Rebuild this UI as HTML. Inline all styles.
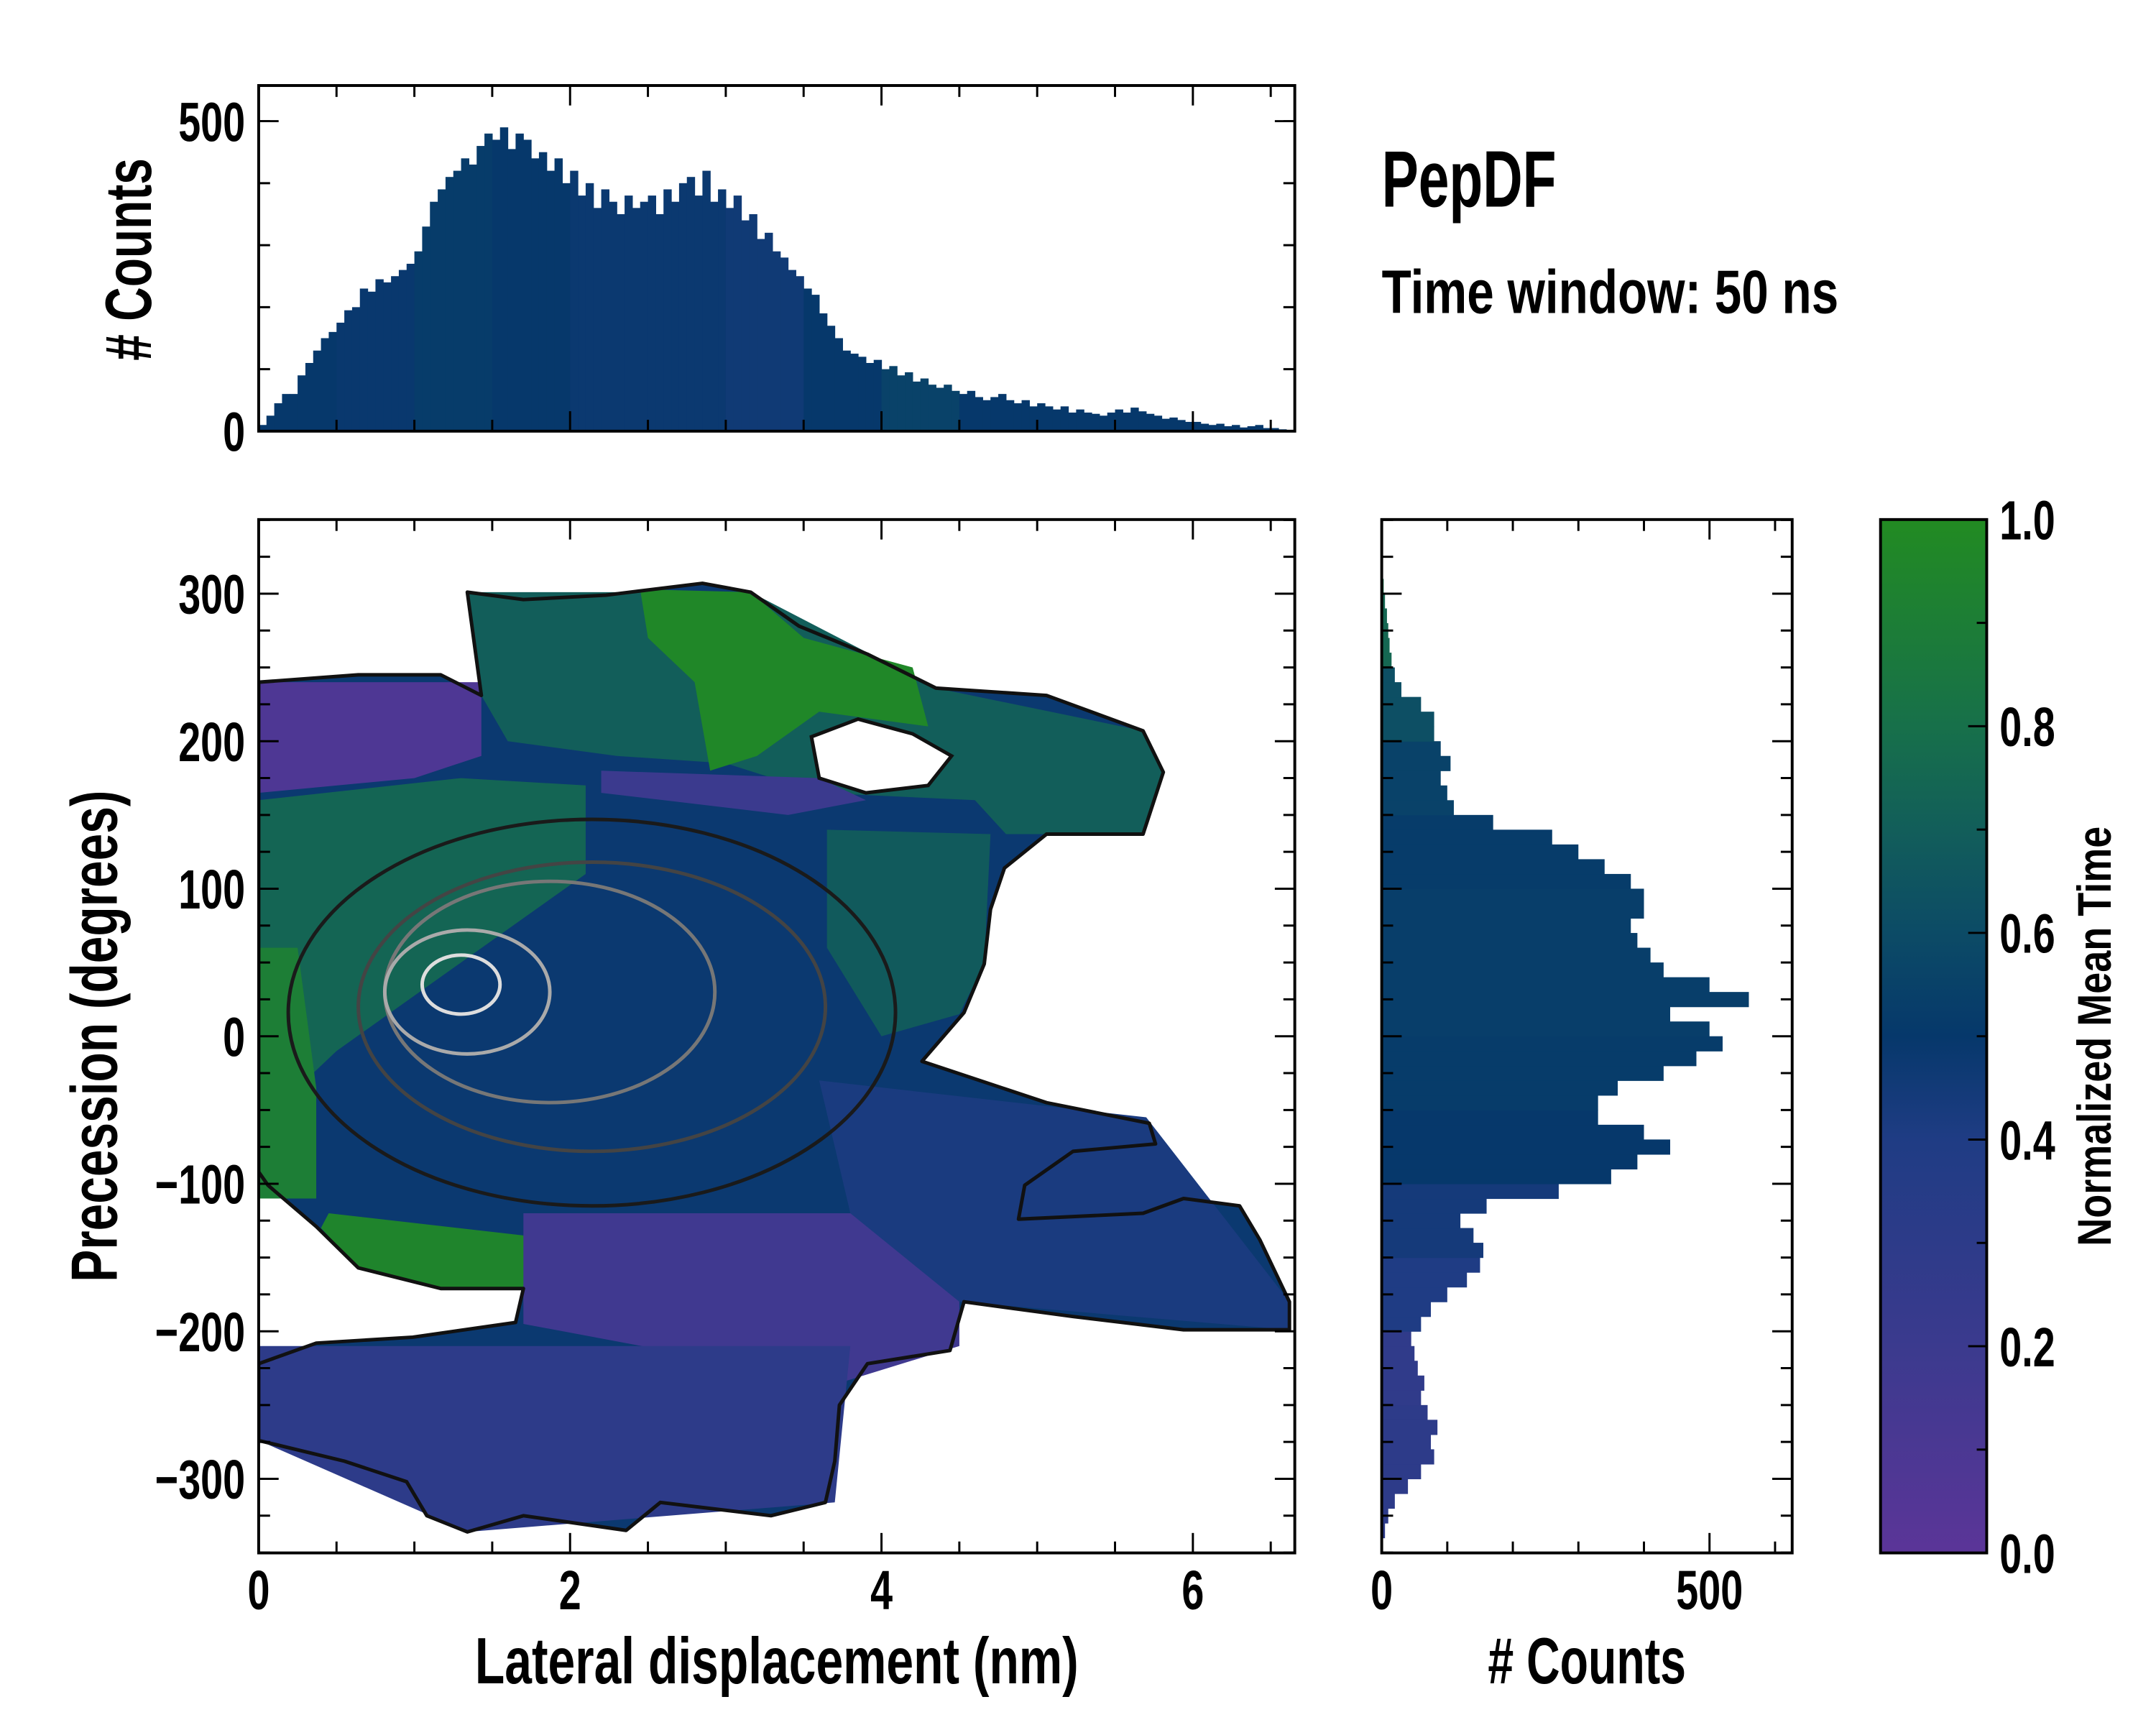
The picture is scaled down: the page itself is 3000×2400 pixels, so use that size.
<!DOCTYPE html>
<html><head><meta charset="utf-8"><style>
html,body{margin:0;padding:0;background:#fff;}
svg{display:block;}
text{font-family:"Liberation Sans",sans-serif;font-weight:bold;fill:#000;}
</style></head><body>
<svg id="fig" width="3000" height="2400" viewBox="0 0 3000 2400" xmlns="http://www.w3.org/2000/svg">
<defs>
<linearGradient id="cmapGrad" x1="0" y1="1" x2="0" y2="0">
<stop offset="0" stop-color="#5b3598"/><stop offset="0.2" stop-color="#3b3a8e"/><stop offset="0.4" stop-color="#1f3c84"/><stop offset="0.5" stop-color="#06386b"/><stop offset="0.6" stop-color="#0c4b66"/><stop offset="0.7" stop-color="#125e5a"/><stop offset="0.8" stop-color="#17704a"/><stop offset="1" stop-color="#228b22"/>
</linearGradient>
<clipPath id="mainClip"><rect x="363" y="729" width="1454" height="1450"/></clipPath>
</defs>
<g id="layer" transform="scale(0.99155)"></g>
</svg>
<script>
// ---------- data ----------
const topHistStart = 0, topHistStep = 0.05;
const topHistCounts = [10,25,45,60,60,90,110,130,150,160,
175,195,200,230,225,245,240,250,260,270,
290,330,370,390,410,420,440,430,460,480,
470,490,455,480,470,440,450,420,440,400,
420,380,400,360,390,370,350,380,360,370,
380,350,390,370,400,410,380,420,370,390,
360,380,340,350,310,320,290,280,260,250,
230,220,190,170,150,130,125,120,110,115,
100,105,90,95,80,85,75,70,75,65,
60,65,55,50,55,60,50,45,50,40,
45,40,35,40,30,35,30,28,25,30,
35,30,38,32,28,25,20,22,18,15,
15,12,10,12,8,10,6,8,10,5,
5,3,2];
const topHistTime = [0.5,0.49,0.52,0.5,0.48,0.48,0.46,0.5,0.55,0.5,0.5,0.5,0.5,0.5];
const rightHistStart = -350, rightHistStep = 10;
const rightHistCounts = [0,5,10,20,40,60,80,75,85,70,60,65,55,50,45,60,75,100,130,150,155,140,120,160,270,350,390,440,400,330,330,360,430,480,520,500,440,560,500,430,410,390,380,400,400,380,340,300,260,170,110,100,90,105,90,80,80,60,30,20,15,12,10,8,5,3,1,0,0,0];
const rightHistTime = [0.3,0.3,0.28,0.4,0.44,0.5,0.52,0.53,0.53,0.52,0.55,0.62,0.75,0.8];
const xTicks = [0,2,4,6];
const yTicks = [-300,-200,-100,0,100,200,300];
const yTickLabels = ["\u2212300","\u2212200","\u2212100","0","100","200","300"];
const topYTicks = [0,500];
const rightXTicks = [0,500];
const cbarTicks = [0,0.2,0.4,0.6,0.8,1.0];
const cbarTickLabels = ["0.0","0.2","0.4","0.6","0.8","1.0"];
const envelope = [[0,240],[0.64,245],[1.17,245],[1.43,231],[1.34,301],[1.70,296],[2.23,299],[2.85,307],[3.16,301],[3.47,278],[3.91,259],[4.35,236],[5.06,231],[5.68,207],[5.81,179],[5.68,137],[5.06,137],[4.79,114],[4.70,86],[4.66,49],[4.53,16],[4.26,-17],[5.06,-45],[5.72,-59],[5.76,-73],[5.23,-78],[4.92,-101],[4.88,-124],[5.68,-120],[5.94,-110],[6.30,-115],[6.43,-138],[6.62,-180],[6.62,-199],[5.94,-199],[5.23,-190],[4.53,-180],[4.44,-213],[3.91,-222],[3.73,-250],[3.70,-288],[3.64,-316],[3.29,-325],[2.58,-316],[2.36,-335],[1.70,-325],[1.34,-336],[1.08,-325],[0.95,-302],[0.55,-288],[0,-274],[0,-222],[0.37,-208],[0.99,-204],[1.65,-194],[1.70,-171],[1.17,-171],[0.64,-157],[0.37,-129],[0.06,-101],[0,-92]];
const envelopeTime = 0.48;
const holes = [[[3.55,203],[3.85,215],[4.2,205],[4.45,190],[4.3,170],[3.9,165],[3.6,175]]];
const patches = [
 {t:0.08, pts:[[0,240],[1.43,240],[1.43,190],[1.0,175],[0,165]]},
 {t:0.70, pts:[[1.34,301],[3.16,301],[4.35,236],[5.68,207],[5.81,179],[5.68,137],[4.8,137],[4.6,160],[3.6,165],[3.0,185],[2.3,190],[1.6,200],[1.43,231]]},
 {t:0.97, pts:[[2.45,303],[3.16,301],[3.5,270],[4.2,250],[4.3,210],[3.6,220],[3.2,190],[2.9,180],[2.8,240],[2.5,270]]},
 {t:0.20, pts:[[2.2,180],[3.6,175],[3.9,160],[3.4,150],[2.6,160],[2.2,165]]},
 {t:0.74, pts:[[0,160],[1.3,175],[2.1,170],[2.1,110],[1.3,50],[0.5,-10],[0,-60]]},
 {t:0.90, pts:[[0,60],[0.25,60],[0.37,-35],[0.37,-110],[0,-110]]},
 {t:0.95, pts:[[0.45,-120],[1.7,-135],[1.75,-170],[1.17,-171],[0.64,-157],[0.4,-130]]},
 {t:0.17, pts:[[1.7,-120],[4.5,-120],[4.5,-210],[3.73,-235],[1.7,-195]]},
 {t:0.30, pts:[[0,-210],[3.8,-210],[3.7,-316],[1.34,-336],[0,-274]]},
 {t:0.68, pts:[[3.65,140],[4.7,137],[4.66,49],[4.5,15],[4.0,0],[3.65,60]]},
 {t:0.42, pts:[[3.6,-30],[5.7,-55],[6.62,-180],[6.62,-199],[4.5,-180],[3.8,-120]]}
];
const contourCx = [2.14,2.14,1.87,1.34,1.30];
const contourCy = [16,20,30,30,35];
const contourRx = [1.95,1.5,1.06,0.53,0.25];
const contourRy = [131,98,75,42,20];
const contourColors = ["#1a1a1a","#444","#777","#aaa","#ddd"];

// ---------- axes ----------
const X = v => 363 + v*218.5;
const Y = v => 1454 - v*2.07;
const HY = c => 605 - c*0.87;
const RX = c => 1939 + c*0.92;
const CY = t => 2179 - t*1450;
const stops=[[0,[91,53,152]],[0.2,[59,58,142]],[0.4,[31,60,132]],[0.5,[6,56,107]],[0.6,[12,75,102]],[0.7,[18,94,90]],[0.8,[23,112,74]],[1,[34,139,34]]];
function cmap(t){t=Math.max(0,Math.min(1,t));for(let i=1;i<stops.length;i++){if(t<=stops[i][0]){const a=stops[i-1],b=stops[i],f=(t-a[0])/(b[0]-a[0]);const c=a[1].map((v,k)=>Math.round(v+(b[1][k]-v)*f));return `rgb(${c[0]},${c[1]},${c[2]})`;}}return 'rgb(34,139,34)';}

const NS="http://www.w3.org/2000/svg";
const root=document.getElementById('layer');
function mk(tag,attrs,parent){const e=document.createElementNS(NS,tag);for(const k in attrs)e.setAttribute(k,attrs[k]);(parent||root).appendChild(e);return e;}
function txt(s,x,y,size,anchor,sx,parent,rot){const e=mk('text',{'font-size':size,'text-anchor':anchor||'start',transform:`translate(${x},${y}) rotate(${rot||0}) scale(${sx||0.72},1)`},parent);e.textContent=s;return e;}
const pts = arr => arr.map(p=>X(p[0]).toFixed(1)+','+Y(p[1]).toFixed(1)).join(' ');

// ---------- top histogram ----------
const gTop=mk('g',{});


topHistCounts.forEach((c,i)=>{
 const x0=topHistStart+i*topHistStep;
 const r=mk('rect',{x:X(x0).toFixed(2),y:HY(c).toFixed(2),width:(X(x0+topHistStep)-X(x0)+0.6).toFixed(2),height:(HY(0)-HY(c)).toFixed(2),fill:cmap(topHistTime[Math.min(13,Math.floor(x0/0.5))])},gTop);
 
 
});
// ---------- main heatmap ----------
const gMain=mk('g',{'clip-path':'url(#mainClip)'});


mk('polygon',{points:pts(envelope),fill:cmap(envelopeTime)},gMain);
patches.forEach(p=>{const e=mk('polygon',{points:pts(p.pts),fill:cmap(p.t)},gMain);
 
 });
holes.forEach(h=>mk('polygon',{points:pts(h),fill:'#fff',stroke:'#111','stroke-width':5},gMain));
mk('polygon',{points:pts(envelope),fill:'none',stroke:'#111','stroke-width':5,'stroke-linejoin':'round'},gMain);
contourCx.forEach((cx,i)=>{
 const e=mk('ellipse',{cx:X(cx),cy:Y(contourCy[i]),rx:X(contourRx[i])-X(0),ry:Y(0)-Y(contourRy[i]),fill:'none',stroke:contourColors[i],'stroke-width':5},gMain);
 
 
});
// ---------- right histogram ----------
const gR=mk('g',{});


rightHistCounts.forEach((c,i)=>{
 const y0=rightHistStart+i*rightHistStep;
 const r=mk('rect',{x:RX(0),y:Y(y0+rightHistStep).toFixed(2),width:(RX(c)-RX(0)).toFixed(2),height:(Y(y0)-Y(y0+rightHistStep)+0.6).toFixed(2),fill:cmap(rightHistTime[Math.min(13,Math.floor((y0+350)/50))])},gR);
 
 
});
// ---------- colorbar ----------
const cb=mk('rect',{x:2639,y:729,width:149,height:1450,fill:'url(#cmapGrad)',stroke:'#000','stroke-width':4});



// ---------- frames & ticks ----------
function frame(x,y,w,h,name){const f=mk('rect',{x,y,width:w,height:h,fill:'none',stroke:'#000','stroke-width':4});}
frame(363,120,1454,485,'top-hist-frame');
frame(363,729,1454,1450,'main-frame');
frame(1939,729,576,1450,'right-hist-frame');
function tick(x1,y1,x2,y2){mk('line',{x1,y1,x2,y2,stroke:'#000','stroke-width':3});}
for(let v=0;v<=6.6;v+=0.5){const maj=Math.abs(v-Math.round(v/2)*2)<1e-6;const L=maj?28:16;
 [[120,605],[729,2179]].forEach(([t,b])=>{tick(X(v),t,X(v),t+L);tick(X(v),b,X(v),b-L);});}
for(let v=-350;v<=350;v+=25){const maj=v%100===0;const L=maj?28:16;
 tick(363,Y(v),363+L,Y(v));tick(1817,Y(v),1817-L,Y(v));tick(1939,Y(v),1939+L,Y(v));tick(2515,Y(v),2515-L,Y(v));}
for(let c=0;c<=550;c+=100){tick(363,HY(c),363+16,HY(c));tick(1817,HY(c),1801,HY(c));}
topYTicks.forEach(c=>{tick(363,HY(c),391,HY(c));tick(1817,HY(c),1789,HY(c));});
for(let c=0;c<=600;c+=100){const L=c%500===0?28:16;tick(RX(c),729,RX(c),729+L);tick(RX(c),2179,RX(c),2179-L);}
for(let t=0;t<=1.0001;t+=0.1){const L=Math.round(t*10)%2===0?26:14;tick(2788,CY(t),2788-L,CY(t));}

// ---------- labels ----------
const gL=mk('g',{});
xTicks.forEach(v=>{const e=txt(String(v),X(v),2258,78,'middle',0.72,gL);});
yTicks.forEach((v,i)=>{const e=txt(yTickLabels[i],344,Y(v)+28,78,'end',0.72,gL);});
topYTicks.forEach(c=>{const e=txt(String(c),344,HY(c)+28,78,'end',0.72,gL);});
rightXTicks.forEach(c=>{const e=txt(String(c),RX(c),2258,78,'middle',0.72,gL);});
cbarTicks.forEach((t,i)=>{const e=txt(cbarTickLabels[i],2806,CY(t)+28,78,'start',0.72,gL);});

function lab(s,x,y,size,len,rot,name){const e=mk('text',{x:0,y:0,'font-size':size,'text-anchor':'middle',textLength:len,lengthAdjust:'spacingAndGlyphs',transform:`translate(${x},${y}) rotate(${rot})`});e.textContent=s;return e;}
lab('Lateral displacement (nm)',1090,2362,92,847,0,'x-axis-title');
lab('# Counts',2227,2362,92,278,0,'right-hist-x-title');
lab('Precession (degrees)',164,1454,92,690,-90,'y-axis-title');
lab('# Counts',212,364,92,284,-90,'top-hist-y-title');
lab('Normalized Mean Time',2962,1454,66,589,-90,'colorbar-title');
const t1=mk('text',{x:1939,y:290,'font-size':112,textLength:245,lengthAdjust:'spacingAndGlyphs'});t1.textContent='PepDF';


const t2=mk('text',{x:1939,y:439,'font-size':86,textLength:641,lengthAdjust:'spacingAndGlyphs'});t2.textContent='Time window: 50 ns';


</script>
</body></html>
